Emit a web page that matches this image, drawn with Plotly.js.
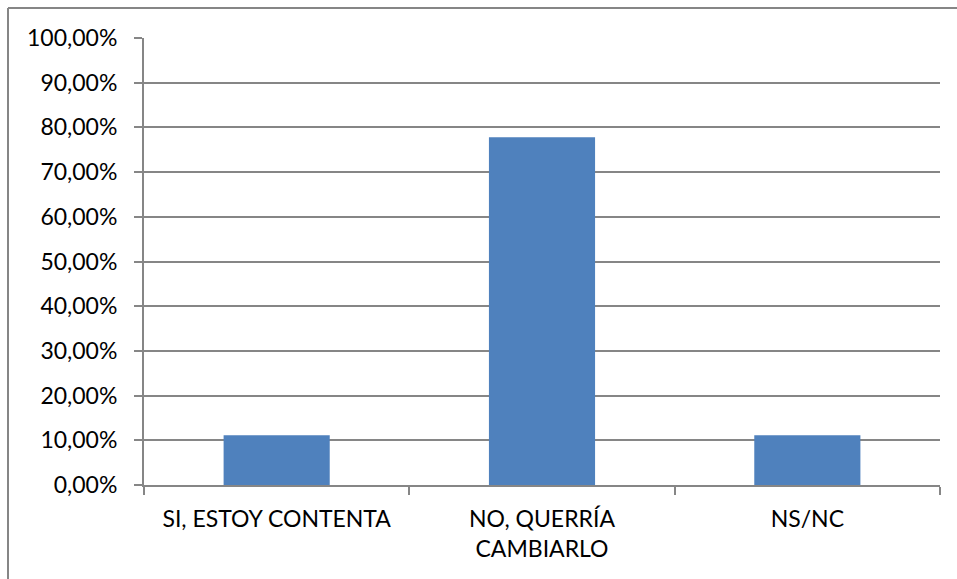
<!DOCTYPE html>
<html>
<head>
<meta charset="utf-8">
<script src="https://cdn.plot.ly/plotly-3.0.1.min.js"></script>
<style>
  html, body { margin: 0; padding: 0; background: #fff; }
  #chart { width: 957px; height: 579px; }
</style>
</head>
<body>
<div id="chart"></div>
<script>
// Survey answers and their shares (percent)
const categories = ["SI, ESTOY CONTENTA", "NO, QUERRÍA<br>CAMBIARLO", "NS/NC"];
const shares = [11.11, 77.78, 11.11];
const yTicks = [0, 10, 20, 30, 40, 50, 60, 70, 80, 90, 100];
const yTickLabels = ["0,00%", "10,00%", "20,00%", "30,00%", "40,00%", "50,00%",
                     "60,00%", "70,00%", "80,00%", "90,00%", "100,00%"];

const font = "Lato, Open Sans, sans-serif";
const gray = "#868686";

const trace = {
  type: "bar",
  x: categories,
  y: shares,
  width: 0.4,
  marker: { color: "#4F81BD", line: { width: 0 } },
  hoverinfo: "x+y"
};

const layout = {
  width: 957,
  height: 579,
  margin: { l: 144, r: 17, t: 38, b: 94, pad: 0 },
  paper_bgcolor: "#ffffff",
  plot_bgcolor: "#ffffff",
  showlegend: false,
  font: { family: font, size: 23, color: "#000000" },
  xaxis: {
    type: "category",
    showline: true,
    linecolor: gray,
    linewidth: 2,
    showgrid: false,
    zeroline: false,
    ticks: "outside",
    tickson: "boundaries",
    ticklen: 8,
    tickwidth: 2,
    tickcolor: gray,
    tickfont: { family: font, size: 23, color: "#000" },
    ticklabelstandoff: 12
  },
  yaxis: {
    range: [0, 100],
    tickvals: yTicks,
    ticktext: yTickLabels,
    showline: true,
    linecolor: gray,
    linewidth: 2,
    showgrid: true,
    gridcolor: gray,
    gridwidth: 2,
    zeroline: false,
    ticks: "outside",
    ticklen: 8,
    tickwidth: 2,
    tickcolor: gray,
    tickfont: { family: font, size: 23, color: "#000" },
    ticklabelstandoff: 12
  },
  shapes: [
    // outer chart frame (top and left edges)
    { type: "line", xref: "paper", yref: "paper",
      x0: (8 - 144) / 796, x1: 1.03, y0: (485 - 8) / 447, y1: (485 - 8) / 447,
      line: { color: gray, width: 2 } },
    { type: "line", xref: "paper", yref: "paper",
      x0: (8 - 144) / 796, x1: (8 - 144) / 796, y0: (485 - 8) / 447, y1: -0.3,
      line: { color: gray, width: 2 } }
  ]
};

Plotly.newPlot("chart", [trace], layout, { displayModeBar: false, staticPlot: true });
</script>
</body>
</html>
